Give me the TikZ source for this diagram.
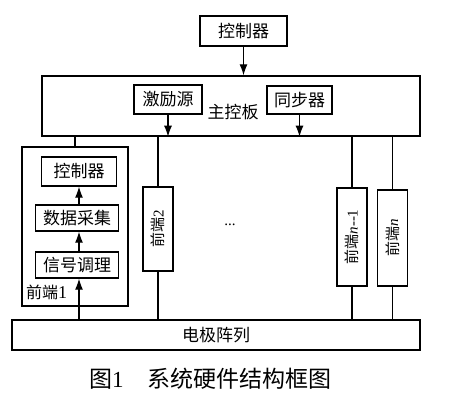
\documentclass[tikz,border=0pt]{standalone}
\usepackage{fontspec}
\newfontfamily\cjk{Noto Sans CJK SC}
\newfontfamily\lat{Liberation Serif}
\usetikzlibrary{arrows.meta}

\begin{document}
\begin{tikzpicture}[x=1pt,y=-1pt,
    box/.style={draw, line width=1.4pt, inner sep=0pt, font=\cjk\fontsize{17}{20}\selectfont},
    vbox/.style={draw, line width=1.3pt, inner sep=0pt, minimum width=30pt},
    vtext/.style={rotate=90, font=\cjk\fontsize{15}{17}\selectfont},
    wire/.style={line width=1.1pt},
    arr/.style={wire, -{Latex[length=11pt,width=8pt]}}]
    \useasboundingbox (0,0) rectangle (452,411);
    % top part
    \node[box, minimum width=87pt, minimum height=30pt] (ctrl) at (243.5,31) {控制器};
    \node[box, minimum width=378pt, minimum height=60pt] (board) at (231,106) {};
    \node[box, minimum width=68pt, minimum height=29pt] (exc) at (168,99.5) {激励源};
    \node[box, minimum width=65pt, minimum height=28pt] (sync) at (299.5,100) {同步器};
    \node[font=\cjk\fontsize{17}{20}\selectfont] (boardlbl) at (233,112) {主控板};
    \draw[arr] (ctrl.south) -- (board.north -| ctrl.south);
    \draw[arr] (exc.south) -- (board.south -| exc.south);
    \draw[arr] (sync.south) -- (board.south -| sync.south);
    % front end 1
    \node[box, minimum width=106pt, minimum height=159pt] (fe1) at (75,226.5) {};
    \node[box, minimum width=75pt, minimum height=29pt] (ictrl) at (79,171.5) {控制器};
    \node[box, minimum width=83pt, minimum height=26pt] (daq) at (77,218) {数据采集};
    \node[box, minimum width=83pt, minimum height=26pt] (cond) at (77,265) {信号调理};
    \node[font=\cjk\fontsize{16}{18}\selectfont, anchor=west, inner sep=0pt] (fe1lbl) at (26,292) {前端{\lat\fontsize{18}{20}\selectfont 1}};
    % front ends 2 .. n
    \node[vbox, minimum height=84pt] (fe2) at (158,229) {};
    \node[vtext] at (fe2) {前端{\lat 2}};
    \node[vbox, minimum height=98pt] (fen1) at (352,237) {};
    \node[vtext] at (fen1) {前端{\lat\itshape n}{\lat --1}};
    \node[vbox, minimum height=96pt] (fen) at (392.5,238) {};
    \node[vtext] at (fen) {前端{\lat\itshape n}};
    \node[font=\lat\fontsize{15}{17}\selectfont] (dots) at (230,225) {...};
    % electrode array
    \node[box, minimum width=408pt, minimum height=30pt] (elec) at (216,335) {电极阵列};
    \draw[wire] (board.south -| fe1.north) -- (fe1.north);
    \draw[arr] (elec.north -| 79,0) -- (cond.south -| 79,0);
    \draw[arr] (cond.north -| 79,0) -- (daq.south -| 79,0);
    \draw[arr] (daq.north -| 79,0) -- (ictrl.south -| 79,0);
    \draw[wire] (board.south -| fe2.north) -- (fe2.north);
    \draw[wire] (fe2.south) -- (elec.north -| fe2.south);
    \draw[wire] (board.south -| fen1.north) -- (fen1.north);
    \draw[wire] (fen1.south) -- (elec.north -| fen1.south);
    \draw[wire] (board.south -| fen.north) -- (fen.north);
    \draw[wire] (fen.south) -- (elec.north -| fen.south);
    % caption
    \node[font=\cjk\fontsize{23}{26}\selectfont, anchor=west, inner sep=0pt] (cap) at (89,379) {图{\lat 1}\hspace{24pt}系统硬件结构框图};
\end{tikzpicture}
\end{document}
